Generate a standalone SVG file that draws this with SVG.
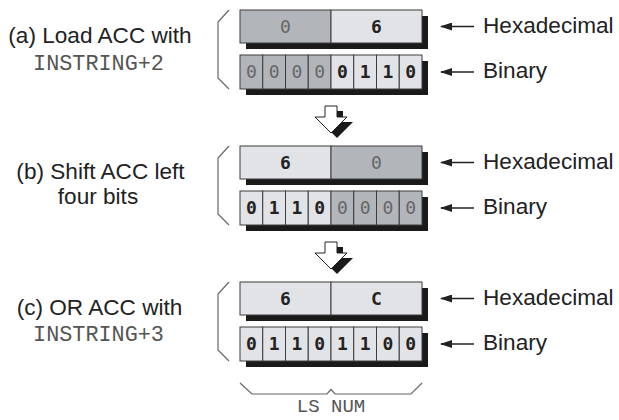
<svg xmlns="http://www.w3.org/2000/svg" width="619" height="420" viewBox="0 0 619 420">
<style>
.lbl{font-family:"Liberation Sans",Arial,sans-serif;font-size:22.6px;fill:#222}
.mono{font-family:"Liberation Mono","Courier New",monospace;font-size:21.8px;fill:#555}
.dk{fill:#b2b6bb;stroke:#3c3c3c;stroke-width:1}
.lt{fill:#e2e3e6;stroke:#3c3c3c;stroke-width:1}
.sh{fill:#1a1a1a}
.bd{font-family:"DejaVu Sans Mono",monospace;font-weight:bold;font-size:18px;fill:#222;text-anchor:middle}
.th{font-family:"DejaVu Sans Mono",monospace;font-size:18px;fill:#666;text-anchor:middle}
.br{fill:none;stroke:#666;stroke-width:1.2}
.ptr{stroke:#222;stroke-width:1.3}
</style>
<defs>
<marker id="ah" viewBox="0 0 12 8" refX="11" refY="4" markerWidth="12" markerHeight="8" markerUnits="userSpaceOnUse" orient="auto">
<path d="M0,0 L12,4 L0,8 Z" fill="#222"/>
</marker>
<g id="darrow">
<polygon points="331,111 343,111 343,122 353,122 337,138 321,122 331,122" fill="#1a1a1a"/>
<polygon points="325,106 337,106 337,117 347,117 331,133 315,117 325,117" fill="#fff" stroke="#222" stroke-width="1"/>
</g>
</defs>

<!-- Step (a) -->
<g id="stepA">
<text class="lbl" x="100" y="43" text-anchor="middle">(a) Load ACC with</text>
<text class="mono" x="98.5" y="69.5" text-anchor="middle">INSTRING+2</text>
<path class="br" d="M229,10 L218,22 L218,78 L229,89"/>
</g>
<g id="hexA">
<rect class="sh" x="246" y="16" width="182" height="33"/>
<rect class="dk" x="240" y="10" width="91" height="33"/>
<rect class="lt" x="331" y="10" width="91" height="33"/>
<text class="th" x="285.5" y="33.3">0</text>
<text class="bd" x="376.5" y="33.3">6</text>
</g>
<g id="binA">
<rect class="sh" x="246" y="61" width="182" height="34"/>
<rect class="dk" x="240" y="55" width="22.75" height="34"/>
<rect class="dk" x="262.75" y="55" width="22.75" height="34"/>
<rect class="dk" x="285.5" y="55" width="22.75" height="34"/>
<rect class="dk" x="308.25" y="55" width="22.75" height="34"/>
<rect class="lt" x="331" y="55" width="22.75" height="34"/>
<rect class="lt" x="353.75" y="55" width="22.75" height="34"/>
<rect class="lt" x="376.5" y="55" width="22.75" height="34"/>
<rect class="lt" x="399.25" y="55" width="22.75" height="34"/>
<text class="th" x="251.4" y="77.8">0</text>
<text class="th" x="274.1" y="77.8">0</text>
<text class="th" x="296.9" y="77.8">0</text>
<text class="th" x="319.6" y="77.8">0</text>
<text class="bd" x="342.4" y="77.8">0</text>
<text class="bd" x="365.1" y="77.8">1</text>
<text class="bd" x="387.9" y="77.8">1</text>
<text class="bd" x="410.6" y="77.8">0</text>
</g>

<!-- Step (b) -->
<g id="stepB">
<text class="lbl" x="100.5" y="178.5" text-anchor="middle">(b) Shift ACC left</text>
<text class="lbl" x="98" y="203.5" text-anchor="middle">four bits</text>
<path class="br" d="M229,146 L218,158 L218,214 L229,225"/>
</g>
<g id="hexB">
<rect class="sh" x="246" y="152" width="182" height="33"/>
<rect class="lt" x="240" y="146" width="91" height="33"/>
<rect class="dk" x="331" y="146" width="91" height="33"/>
<text class="bd" x="285.5" y="169.3">6</text>
<text class="th" x="376.5" y="169.3">0</text>
</g>
<g id="binB">
<rect class="sh" x="246" y="197" width="182" height="34"/>
<rect class="lt" x="240" y="191" width="22.75" height="34"/>
<rect class="lt" x="262.75" y="191" width="22.75" height="34"/>
<rect class="lt" x="285.5" y="191" width="22.75" height="34"/>
<rect class="lt" x="308.25" y="191" width="22.75" height="34"/>
<rect class="dk" x="331" y="191" width="22.75" height="34"/>
<rect class="dk" x="353.75" y="191" width="22.75" height="34"/>
<rect class="dk" x="376.5" y="191" width="22.75" height="34"/>
<rect class="dk" x="399.25" y="191" width="22.75" height="34"/>
<text class="bd" x="251.4" y="213.8">0</text>
<text class="bd" x="274.1" y="213.8">1</text>
<text class="bd" x="296.9" y="213.8">1</text>
<text class="bd" x="319.6" y="213.8">0</text>
<text class="th" x="342.4" y="213.8">0</text>
<text class="th" x="365.1" y="213.8">0</text>
<text class="th" x="387.9" y="213.8">0</text>
<text class="th" x="410.6" y="213.8">0</text>
</g>

<!-- Step (c) -->
<g id="stepC">
<text class="lbl" x="99.5" y="315" text-anchor="middle">(c) OR ACC with</text>
<text class="mono" x="98.5" y="340.7" text-anchor="middle">INSTRING+3</text>
<path class="br" d="M229,282 L218,294 L218,350 L229,361"/>
</g>
<g id="hexC">
<rect class="sh" x="246" y="288" width="182" height="33"/>
<rect class="lt" x="240" y="282" width="91" height="33"/>
<rect class="lt" x="331" y="282" width="91" height="33"/>
<text class="bd" x="285.5" y="305.3">6</text>
<text class="bd" x="376.5" y="305.3">C</text>
</g>
<g id="binC">
<rect class="sh" x="246" y="333" width="182" height="34"/>
<rect class="lt" x="240" y="327" width="22.75" height="34"/>
<rect class="lt" x="262.75" y="327" width="22.75" height="34"/>
<rect class="lt" x="285.5" y="327" width="22.75" height="34"/>
<rect class="lt" x="308.25" y="327" width="22.75" height="34"/>
<rect class="lt" x="331" y="327" width="22.75" height="34"/>
<rect class="lt" x="353.75" y="327" width="22.75" height="34"/>
<rect class="lt" x="376.5" y="327" width="22.75" height="34"/>
<rect class="lt" x="399.25" y="327" width="22.75" height="34"/>
<text class="bd" x="251.4" y="349.8">0</text>
<text class="bd" x="274.1" y="349.8">1</text>
<text class="bd" x="296.9" y="349.8">1</text>
<text class="bd" x="319.6" y="349.8">0</text>
<text class="bd" x="342.4" y="349.8">1</text>
<text class="bd" x="365.1" y="349.8">1</text>
<text class="bd" x="387.9" y="349.8">0</text>
<text class="bd" x="410.6" y="349.8">0</text>
</g>

<!-- Right labels -->
<g id="labels">
<text class="lbl" x="483" y="33.3">Hexadecimal</text>
<text class="lbl" x="483" y="78.3">Binary</text>
<text class="lbl" x="483" y="169.3">Hexadecimal</text>
<text class="lbl" x="483" y="214.3">Binary</text>
<text class="lbl" x="483" y="305.3">Hexadecimal</text>
<text class="lbl" x="483" y="350.3">Binary</text>
</g>

<!-- Bottom brace -->
<g id="lsnum">
<path class="br" d="M240,383 L252,394 L327,394 L331,389.5 L335,394 L411,394 L422,383"/>
<text x="331" y="412" text-anchor="middle" style="font-family:'Liberation Mono','Courier New',monospace;font-size:19px;fill:#555">LS NUM</text>
</g>

<!-- Connectors -->
<g id="connectors">
<use href="#darrow"/>
<use href="#darrow" transform="translate(0,136)"/>
<line class="ptr" x1="474" y1="26.5" x2="441" y2="26.5" marker-end="url(#ah)"/>
<line class="ptr" x1="474" y1="72" x2="441" y2="72" marker-end="url(#ah)"/>
<line class="ptr" x1="474" y1="162.5" x2="441" y2="162.5" marker-end="url(#ah)"/>
<line class="ptr" x1="474" y1="208" x2="441" y2="208" marker-end="url(#ah)"/>
<line class="ptr" x1="474" y1="298.5" x2="441" y2="298.5" marker-end="url(#ah)"/>
<line class="ptr" x1="474" y1="344" x2="441" y2="344" marker-end="url(#ah)"/>
</g>
</svg>
